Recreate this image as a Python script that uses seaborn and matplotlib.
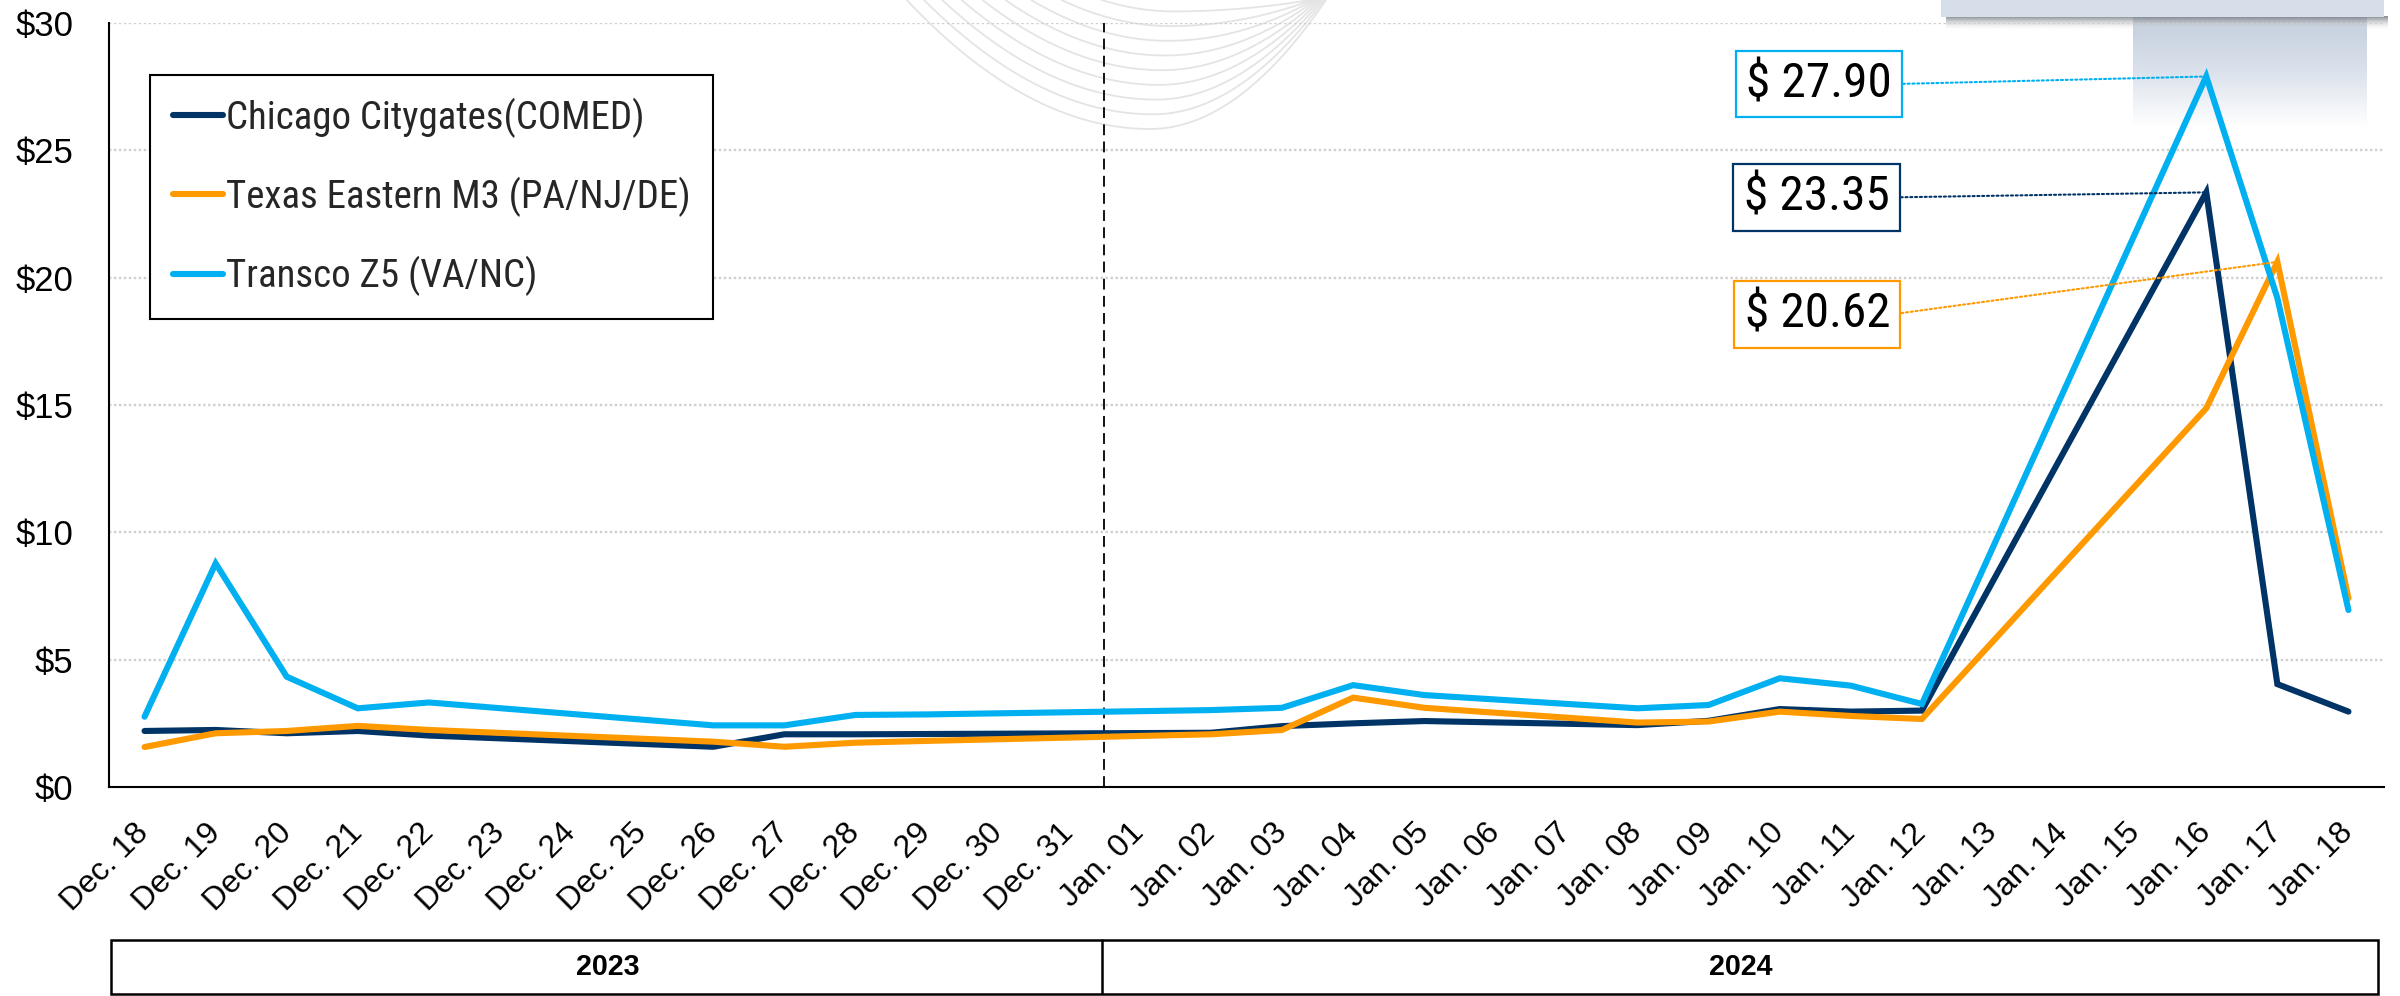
import numpy as np
import pandas as pd
import matplotlib
matplotlib.use("Agg")
import matplotlib.pyplot as plt
import matplotlib.font_manager as fm
from matplotlib.ticker import FixedLocator, StrMethodFormatter, NullFormatter, FixedFormatter
from matplotlib.patches import Rectangle
from matplotlib.lines import Line2D
import seaborn as sns

# ---------------- data ----------------
dates = ["Dec. 18", "Dec. 19", "Dec. 20", "Dec. 21", "Dec. 22", "Dec. 23", "Dec. 24", "Dec. 25",
         "Dec. 26", "Dec. 27", "Dec. 28", "Dec. 29", "Dec. 30", "Dec. 31",
         "Jan. 01", "Jan. 02", "Jan. 03", "Jan. 04", "Jan. 05", "Jan. 06", "Jan. 07", "Jan. 08",
         "Jan. 09", "Jan. 10", "Jan. 11", "Jan. 12", "Jan. 13", "Jan. 14", "Jan. 15", "Jan. 16",
         "Jan. 17", "Jan. 18"]
years = ["2023", "2024"]
year_counts = [14, 18]
nan = np.nan
chicago = [2.20, 2.24, 2.11, 2.20, 2.02, nan, nan, nan, 1.58, 2.07, 2.07, 2.08, nan, nan,
           nan, 2.13, 2.39, 2.50, 2.59, nan, nan, 2.43, 2.60, 3.06, 2.96, 3.00, nan, nan, nan,
           23.35, 4.04, 2.96]
texas = [1.57, 2.11, 2.20, 2.40, 2.24, nan, nan, nan, 1.78, 1.58, 1.74, 1.81, nan, nan,
         nan, 2.07, 2.24, 3.51, 3.11, nan, nan, 2.53, 2.57, 2.96, 2.79, 2.67, nan, nan, nan,
         14.87, 20.62, 7.41]
transco = [2.76, 8.78, 4.33, 3.09, 3.32, nan, nan, nan, 2.42, 2.42, 2.83, 2.85, nan, nan,
           nan, 3.02, 3.11, 4.00, 3.61, nan, nan, 3.09, 3.22, 4.27, 3.98, 3.26, nan, nan, nan,
           27.90, 19.20, 6.95]
series_names = ["Chicago Citygates(COMED)", "Texas Eastern M3 (PA/NJ/DE)", "Transco Z5 (VA/NC)"]
colors = ["#003366", "#FF9900", "#00B0F0"]
# callouts: (series index, centre of the label box in data coords)
callout_series = [2, 0, 1]
callout_pos = [(23.55, 27.6), (23.52, 23.15), (23.53, 18.55)]

# ---------------- fonts ----------------
names = {f.name for f in fm.fontManager.ttflist}

def pick(cands, default):
    for n in cands:
        if n in names:
            return n
    return default

REG = pick(["Liberation Sans", "Arimo", "Arial"], "DejaVu Sans")
COND = pick(["Liberation Sans Narrow", "Arial Narrow", "Roboto Condensed", "Archivo Narrow",
             "PT Sans Narrow", "IBM Plex Sans Condensed"], REG)

sns.set_theme(style="white")
plt.rcParams["font.family"] = [REG, "DejaVu Sans"]

# ---------------- figure ----------------
W, H = 2400, 996
fig = plt.figure(figsize=(W / 100, H / 100), dpi=100)
fig.patch.set_facecolor("white")
renderer = fig.canvas.get_renderer()

def fit(text, target_px, family, weight="normal"):
    t = fig.text(0, 0, text, fontsize=20, family=[family, "DejaVu Sans"], weight=weight)
    w = t.get_window_extent(renderer).width
    t.remove()
    return 20 * target_px / w

fs_leg = fit("Texas Eastern M3 (PA/NJ/DE)", 464, COND)
fs_call = fit("$ 27.90", 146, COND)
fs_y = fit("$30", 58, REG)
fs_x = 23
fs_year = fit("2023", 64, REG, "bold")

def fx(px):
    return px / W

def fy(py):
    return 1 - py / H

# decorations behind the chart (pixel coordinates)
deco = fig.add_axes([0, 0, 1, 1], zorder=0)
deco.set_xlim(0, W)
deco.set_ylim(H, 0)
deco.axis("off")
for j in range(9):
    yb = 129 - 14.7 * j
    xb = 1150 + 3 * j
    xl = xb - np.sqrt(yb / 0.00218)
    xr = 1326 - 2 * j
    xs = np.linspace(xl, xr, 300)
    ys = np.where(xs < xb, yb * (1 - ((xs - xb) / (xb - xl)) ** 2),
                  yb * (1 - ((xs - xb) / (xr - xb)) ** 2))
    deco.plot(xs, ys, color="#e4e4e4", lw=1.3, solid_capstyle="round")
grad = np.linspace(0, 1, 100)[:, None]
cm = matplotlib.colors.LinearSegmentedColormap.from_list("g", ["#c3cddc", "#dbe2ec", "#ffffff"])
deco.imshow(grad, extent=(2133, 2367, 127, 17), aspect="auto", cmap=cm, zorder=1)
sh = np.linspace(0, 1, 30)[:, None]
cm2 = matplotlib.colors.LinearSegmentedColormap.from_list("s", [(0.42, 0.44, 0.47, 0.8), (1, 1, 1, 0)])
deco.imshow(sh, extent=(1946, 2388, 31, 16), aspect="auto", cmap=cm2, zorder=2)
deco.add_patch(Rectangle((1941, -5), 2384 - 1941, 22, facecolor="#d6dfe9", edgecolor="none", zorder=3))

# main axes
x0, x1, ytop, ybot = 109, 2384, 23, 787
ax = fig.add_axes([fx(x0), fy(ybot), fx(x1 - x0), (ybot - ytop) / H], zorder=2)
ax.patch.set_alpha(0)

idx = np.arange(len(dates))
frames = []
for name, vals in zip(series_names, [chicago, texas, transco]):
    frames.append(pd.DataFrame({"x": idx, "price": vals, "series": name}))
df = pd.concat(frames).dropna()

LW = 4.4
sns.lineplot(data=df, x="x", y="price", hue="series", hue_order=series_names,
             palette=colors, lw=LW, ax=ax, legend=False, zorder=5,
             solid_capstyle="round", solid_joinstyle="miter")

ax.set_xlim(-0.5, len(dates) - 0.5)
ax.set_ylim(0, 30)
ax.set_xlabel("")
ax.set_ylabel("")

ax.yaxis.set_major_locator(FixedLocator([0, 5, 10, 15, 20, 25, 30]))
ax.yaxis.set_major_formatter(StrMethodFormatter("${x:,.0f}"))
for v in [5, 10, 15, 20, 25, 30]:
    ax.axhline(v, color="#cfcfcf", lw=1.7, ls=(0, (1, 1.1)), zorder=1)

ax.xaxis.set_major_locator(FixedLocator(np.arange(-0.5, len(dates) + 0.5, 1)))
ax.xaxis.set_major_formatter(NullFormatter())
ax.xaxis.set_minor_locator(FixedLocator(idx))
ax.xaxis.set_minor_formatter(FixedFormatter(dates))
ax.tick_params(axis="x", which="major", direction="out", length=8, width=1.4, color="black")
ax.tick_params(axis="x", which="minor", length=0, pad=30, labelsize=fs_x, labelcolor="black")
for lab in ax.get_xticklabels(minor=True):
    lab.set_rotation(45)
    lab.set_ha("right")
    lab.set_va("center")
    lab.set_rotation_mode("anchor")
ax.tick_params(axis="y", which="major", direction="out", length=9.5, width=1.4, color="black",
               pad=16, labelsize=fs_y, labelcolor="black")

for s in ["top", "right"]:
    ax.spines[s].set_visible(False)
for s in ["left", "bottom"]:
    ax.spines[s].set_color("black")
    ax.spines[s].set_linewidth(1.5)

ax.axvline(year_counts[0] - 0.5, color="black", lw=1.3, ls=(0, (6, 3.5)), zorder=3)

# legend
handles = [Line2D([0], [0], color=c, lw=LW, solid_capstyle="round") for c in colors]
leg = ax.legend(handles, series_names, loc="upper left",
                bbox_to_anchor=(fx(150), fy(75)), bbox_transform=fig.transFigure,
                prop=fm.FontProperties(family=[COND, "DejaVu Sans"], size=fs_leg),
                frameon=True, fancybox=False, framealpha=1,
                edgecolor="black", borderpad=0.58, labelspacing=1.0,
                handlelength=1.3, handletextpad=0.08, borderaxespad=0)
leg.get_frame().set_linewidth(1.5)

# callouts
all_vals = [chicago, texas, transco]
for si, (bx, by) in zip(callout_series, callout_pos):
    vals = np.array(all_vals[si], dtype=float)
    pi = int(np.nanargmax(vals))
    ax.annotate(f"$ {vals[pi]:.2f}", xy=(pi, vals[pi]), xytext=(bx, by),
                textcoords="data", ha="center", va="center", fontsize=fs_call,
                family=[COND, "DejaVu Sans"], color="black",
                bbox=dict(boxstyle="square,pad=0.21", fc="white", ec=colors[si], lw=1.6),
                arrowprops=dict(arrowstyle="-", color=colors[si], lw=1.5, ls=(0, (1, 1.3)),
                                shrinkA=0, shrinkB=0, relpos=(1, 0.5)),
                zorder=6)

# year band
bx0, bx1, by0, by1 = 110.7, 2378, 939, 995
band = fig.add_axes([fx(x0), fy(by1), fx(x1 - x0), (by1 - by0) / H], zorder=2)
band.set_xlim(ax.get_xlim())
band.set_ylim(0, 1)
band.axis("off")
step = (x1 - x0) / len(dates)
lo = -0.5 + (bx0 - x0) / step
hi = -0.5 + (bx1 - x0) / step
band.add_patch(Rectangle((lo, 0.02), hi - lo, 0.96, fill=False, ec="black", lw=1.8, clip_on=False))
start = -0.5
for yr, cnt in zip(years, year_counts):
    a = max(start, lo)
    b = min(start + cnt, hi)
    band.text((a + b) / 2, 0.5, yr, ha="center", va="center", fontsize=fs_year,
              fontweight="bold", color="black")
    start += cnt
band.plot([year_counts[0] - 0.53] * 2, [0.02, 0.98], color="black", lw=1.8)

fig.savefig("out.png", dpi=100, facecolor="white")
